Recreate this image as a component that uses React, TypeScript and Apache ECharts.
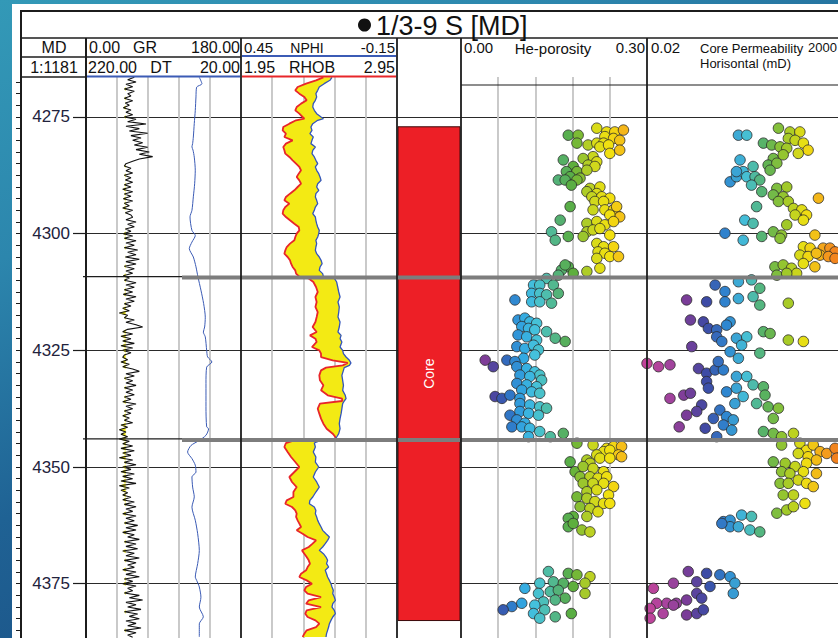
import React, { useEffect, useRef } from 'react';
import * as echarts from 'echarts';

// ---------- data ----------
const DEPTH_MIN = 4266.43;
const DEPTH_MAX = 4386.64;
const DEPTH_LABELS = [4275, 4300, 4325, 4350, 4375];
const ZONE_TOPS = [4309.4, 4344.2];
const CORE_INTERVALS = [[4277.1, 4382.9]];
const CORE_LABEL = 'Core';

const GR_TOP = 4266.5;
const GR_STEP = 0.5;
const GR_CUTOFF = 46;
const GR_VALUES = [
  56.1,48.4,58.1,46.4,54.2,44.5,56.1,48.4,52.2,44.5,54.2,45.7,50.3,43.3,52.2,46.4,54.2,44.5,58.1,48.4,
  69.7,46.4,61.9,50.3,71.6,52.2,63.9,54.2,65.8,56.1,71.6,58.1,73.5,61.9,77.4,61.9,54.2,46.4,44.5,52.2,
  46.4,54.2,44.5,52.2,45.7,54.2,44.5,52.2,42.6,54.2,44.5,52.2,43.3,54.2,44.5,50.3,42.6,54.2,45.7,52.2,
  54.2,46.4,58.1,48.4,56.1,45.7,52.2,43.3,54.2,44.5,58.1,46.4,56.1,44.5,60.0,48.4,58.1,45.7,61.9,46.4,
  58.1,44.5,56.1,46.4,54.2,43.3,50.3,44.5,58.1,46.4,56.1,44.5,54.2,43.3,58.1,46.4,56.1,44.5,52.2,42.6,
  50.3,38.7,48.4,44.5,56.1,46.4,58.1,65.8,48.4,42.6,54.2,40.6,52.2,42.6,56.1,40.6,54.2,42.6,52.2,44.5,
  42.6,48.4,40.6,50.3,42.6,54.2,61.9,46.4,56.1,44.5,54.2,46.4,58.1,44.5,54.2,46.4,56.1,44.5,52.2,42.6,
  58.1,46.4,54.2,44.5,52.2,42.6,50.3,44.5,54.2,40.6,48.4,38.7,46.4,40.6,48.4,38.7,50.3,42.6,54.2,40.6,
  56.1,42.6,52.2,38.7,54.2,44.5,58.1,42.6,52.2,40.6,56.1,42.6,54.2,40.6,58.1,38.7,50.3,40.6,48.4,42.6,
  52.2,42.6,56.1,44.5,58.1,46.4,54.2,42.6,58.1,46.4,56.1,44.5,60.0,46.4,58.1,42.6,56.1,48.4,61.9,44.5,
  58.1,46.4,60.0,42.6,56.1,46.4,61.9,44.5,58.1,48.4,56.1,42.6,58.1,46.4,61.9,44.5,54.2,42.6,58.1,48.4,
  54.2,44.5,61.9,50.3,65.8,46.4,58.1,48.4,63.9,44.5,60.0,50.3,61.9,46.4,58.1,48.4,63.9,44.5,58.1,48.4,
  54.2
];

// [depth, DT]
const DT_LOG = [
  [4266.5,73.8],[4267.9,70.4],[4268.6,77.2],[4270.7,78.1],[4273.6,79.0],[4276.4,80.3],[4279.3,81.5],
  [4280.7,82.4],[4281.4,83.3],[4282.1,81.9],[4283.6,80.3],[4286.4,79.0],[4289.3,79.8],[4292.1,81.5],
  [4295.0,83.3],[4296.4,85.8],[4299.3,83.3],[4300.4,79.0],[4301.8,83.3],[4303.2,86.7],[4305.0,81.5],
  [4307.1,78.1],[4309.3,75.5],[4312.1,71.7],[4315.0,68.2],[4317.9,66.1],[4320.0,66.9],[4321.1,68.6],
  [4322.1,66.1],[4325.0,64.3],[4326.4,63.1],[4327.5,57.5],[4328.6,64.3],[4332.1,65.2],[4337.1,65.2],
  [4341.4,64.3],[4341.8,61.8],[4343.2,65.2],[4344.3,73.8],[4345.4,84.6],[4346.8,88.9],[4348.2,83.3],
  [4349.6,79.0],[4351.1,78.1],[4352.1,83.3],[4354.3,82.4],[4356.4,80.3],[4358.6,83.3],[4361.4,79.0],
  [4364.3,75.9],[4367.9,73.8],[4370.7,75.9],[4373.6,79.0],[4374.3,77.2],[4375.7,73.8],[4377.9,71.7],
  [4380.0,73.8],[4382.1,68.6],[4383.6,73.8],[4386.4,73.8]
];

const NR_DEPTH = [
  4266.5,4267.14,4267.86,4268.57,4269.29,4270.0,4270.71,4271.43,4272.14,4272.86,4273.57,4274.29,4275.0,4275.36,
  4275.71,4276.43,4277.14,4277.86,4278.57,4279.29,4280.0,4280.71,4281.43,4282.14,4282.86,4283.57,4284.29,4285.0,
  4285.71,4286.43,4287.14,4287.86,4288.57,4289.29,4290.0,4290.71,4291.43,4292.14,4292.86,4293.57,4294.29,4295.0,4295.71,
  4296.43,4297.14,4297.86,4298.57,4299.29,4300.0,4300.71,4301.43,4302.14,4302.86,4303.57,4304.29,4305.0,4305.71,
  4306.43,4307.14,4307.86,4308.57,4309.2,4309.6,4310.36,4311.43,4312.5,4313.57,4314.64,4315.71,4316.79,4317.86,
  4318.93,4320.0,4321.07,4321.79,4322.5,4323.21,4324.29,4325.0,4325.71,
  4326.43,4327.14,4327.71,4328.21,4328.71,4329.29,4330.36,4331.43,4332.5,4333.57,4334.64,4335.36,4335.86,4336.43,
  4337.5,4338.57,4339.64,4340.71,4341.79,4342.86,4343.57,4344.0,4344.4,4344.86,4345.71,4346.79,4347.86,4348.93,
  4350.0,4351.07,4352.14,4353.21,4354.29,4355.36,
  4356.43,4357.14,4357.86,4358.57,4359.29,4360.0,4360.71,4361.43,4362.14,4362.86,4363.57,4364.29,4365.0,4365.71,
  4366.43,4367.14,4367.86,4368.57,4369.29,4370.0,4370.71,4371.43,4372.14,4372.86,4373.57,4374.29,4375.0,4375.71,
  4376.43,4377.14,4377.86,4378.57,4379.29,4380.0,4380.71,4381.43,4382.14,4382.86,4383.57,4384.29,4385.0,4385.71,4386.43
];
const NPHI_VALUES = [
  0.100,0.108,0.130,0.149,0.155,0.162,0.159,0.164,0.172,0.174,0.168,0.159,0.142,0.133,0.155,0.174,0.181,0.177,0.185,
  0.172,0.177,0.181,0.164,0.174,0.177,0.168,0.162,0.155,0.164,0.159,0.151,0.146,0.142,0.155,0.159,0.151,0.162,0.164,
  0.159,0.155,0.164,0.168,0.174,
  0.164,0.162,0.159,0.155,0.149,0.151,0.155,0.162,0.159,0.162,0.164,0.159,0.149,0.142,0.138,0.146,0.149,0.136,0.133,
  0.091,0.082,0.078,0.074,0.069,0.077,0.072,0.074,0.077,0.069,0.072,0.077,0.065,0.069,0.062,0.069,0.059,0.056,
  0.046,0.033,0.027,0.033,0.053,0.056,0.062,0.059,0.056,0.059,0.049,0.046,0.053,0.059,0.062,0.065,0.069,0.072,0.069,
  0.074,0.082,0.087,0.149,0.168,0.164,0.172,0.162,0.164,0.151,0.164,0.172,0.159,0.149,0.162,
  0.174,0.185,0.187,0.168,0.162,0.164,0.159,0.155,0.149,0.142,0.136,0.123,0.110,0.117,0.126,0.136,0.149,0.133,0.123,
  0.117,0.121,0.113,0.126,0.121,0.117,0.110,0.104,0.100,0.095,0.097,0.091,0.087,0.097,0.100,0.091,0.087,0.097,0.104,
  0.110,0.113,0.117,0.121,0.123
];
const RHOB_VALUES = [
  2.478,2.431,2.367,2.313,2.298,2.324,2.356,2.371,2.335,2.307,2.298,2.324,2.345,2.356,2.303,2.260,2.221,2.217,2.238,
  2.228,2.281,2.238,2.221,2.228,2.234,2.260,2.281,2.303,2.324,2.335,2.320,2.307,2.324,2.335,2.313,2.292,2.264,2.238,
  2.228,2.260,2.234,2.221,2.217,
  2.238,2.264,2.292,2.320,2.324,2.307,2.298,2.292,2.264,2.243,2.234,2.228,2.249,2.264,2.271,2.281,2.298,2.303,2.324,
  2.384,2.414,2.431,2.442,2.427,2.435,2.427,2.442,2.435,2.427,2.409,2.435,2.392,2.427,2.435,2.405,2.452,2.463,
  2.463,2.538,2.634,2.602,2.495,2.463,2.452,2.456,2.478,2.463,2.506,2.598,2.598,2.456,2.442,2.452,2.463,2.478,2.499,
  2.538,2.555,2.555,2.281,2.238,2.228,2.249,2.271,2.298,2.324,2.292,2.260,2.277,2.307,2.286,
  2.286,2.243,2.234,2.277,2.298,2.307,2.303,2.313,2.324,2.335,2.307,2.345,2.377,2.431,2.409,2.384,2.341,2.356,2.371,
  2.384,2.392,2.377,2.367,2.335,2.324,2.371,2.405,2.367,2.356,2.377,2.463,2.384,2.367,2.463,2.371,2.362,2.377,2.427,
  2.452,2.431,2.371,2.356,2.345
];

// [He-porosity (v/v), depth]
const POROSITY_POINTS = [
  [0.219,4277.4],[0.235,4278.2],[0.248,4278.2],[0.262,4277.8],[0.232,4279.2],[0.246,4279.6],[0.256,4280.0],[0.173,4278.9],
  [0.189,4278.9],[0.187,4280.6],[0.205,4281.0],[0.219,4280.6],[0.230,4280.6],[0.224,4281.4],[0.238,4281.0],[0.240,4282.8],
  [0.256,4282.1],[0.213,4283.5],[0.197,4283.9],[0.165,4284.2],[0.219,4284.6],[0.205,4285.3],[0.216,4285.6],[0.181,4285.6],
  [0.170,4286.7],[0.187,4286.7],[0.203,4286.4],[0.176,4287.8],[0.192,4288.1],[0.157,4288.5],[0.168,4288.5],[0.187,4288.5],
  [0.178,4289.6],[0.208,4290.3],[0.224,4290.0],[0.203,4291.0],[0.219,4291.4],[0.211,4292.1],[0.227,4292.1],[0.240,4292.4],
  [0.216,4293.1],[0.230,4293.1],[0.213,4294.9],[0.232,4294.9],[0.246,4294.9],[0.251,4296.0],[0.256,4296.4],[0.240,4296.0],
  [0.251,4294.2],[0.176,4294.2],[0.160,4297.1],[0.203,4297.8],[0.219,4297.4],[0.232,4298.1],[0.246,4297.4],[0.203,4299.6],
  [0.213,4299.2],[0.224,4298.9],[0.240,4300.3],[0.146,4299.6],[0.152,4301.4],[0.173,4300.6],[0.197,4300.6],[0.219,4302.1],
  [0.230,4302.8],[0.246,4302.8],[0.221,4303.9],[0.232,4304.2],[0.219,4305.3],[0.240,4304.9],[0.254,4304.9],[0.224,4307.4],
  [0.173,4307.1],[0.162,4307.8],[0.168,4306.7],[0.181,4308.5],[0.203,4308.1],[0.157,4308.9],
  [0.138,4309.6],[0.117,4311.0],[0.127,4311.0],[0.149,4311.0],[0.157,4312.8],[0.114,4312.8],[0.127,4312.8],[0.138,4313.1],
  [0.114,4314.6],[0.127,4314.6],[0.146,4314.9],[0.087,4314.2],[0.092,4318.5],[0.103,4318.1],[0.111,4318.9],[0.122,4319.2],
  [0.098,4319.9],[0.109,4320.3],[0.119,4320.6],[0.138,4321.0],[0.152,4322.4],[0.168,4323.1],[0.092,4321.7],[0.106,4322.1],
  [0.122,4322.8],[0.090,4324.2],[0.103,4324.6],[0.117,4323.9],[0.125,4324.9],[0.101,4326.7],[0.119,4326.0],[0.039,4327.1],
  [0.052,4328.5],[0.074,4327.1],[0.087,4327.4],[0.090,4328.5],[0.106,4328.9],[0.119,4329.6],[0.127,4330.3],[0.095,4330.3],
  [0.111,4330.6],[0.130,4331.4],[0.090,4332.1],[0.106,4332.4],[0.122,4332.8],[0.098,4333.5],[0.114,4333.9],[0.127,4334.2],
  [0.055,4334.9],[0.066,4335.3],[0.079,4334.6],[0.095,4335.3],[0.095,4336.4],[0.111,4336.7],[0.127,4337.1],[0.138,4337.4],
  [0.079,4338.9],[0.095,4338.1],[0.109,4338.5],[0.125,4338.9],[0.090,4339.9],[0.103,4340.6],[0.082,4341.4],[0.098,4341.4],
  [0.111,4341.7],[0.127,4342.4],[0.144,4343.5],[0.109,4343.5],[0.165,4342.8],
  [0.187,4344.9],[0.213,4345.3],[0.235,4346.0],[0.246,4345.6],[0.259,4345.6],[0.230,4346.7],[0.240,4346.4],[0.254,4347.4],
  [0.259,4347.8],[0.176,4348.9],[0.203,4348.5],[0.219,4347.4],[0.208,4349.2],[0.224,4348.1],[0.240,4348.1],[0.184,4351.0],
  [0.197,4349.9],[0.213,4350.3],[0.230,4351.0],[0.192,4352.1],[0.208,4352.1],[0.221,4352.4],[0.235,4352.1],[0.197,4353.5],
  [0.213,4353.5],[0.230,4353.5],[0.246,4354.2],[0.203,4355.3],[0.219,4354.9],[0.238,4356.0],[0.187,4356.4],[0.203,4356.7],
  [0.216,4357.4],[0.230,4357.8],[0.240,4357.8],[0.192,4358.5],[0.208,4358.9],[0.221,4359.6],[0.203,4360.6],[0.181,4360.6],
  [0.173,4361.0],[0.173,4362.8],[0.181,4362.1],[0.195,4363.5],[0.208,4363.9],
  [0.141,4372.4],[0.173,4372.8],[0.187,4373.1],[0.208,4373.5],[0.127,4374.9],[0.149,4374.6],[0.165,4374.9],[0.181,4375.6],
  [0.200,4374.9],[0.103,4376.0],[0.125,4377.1],[0.144,4376.7],[0.157,4376.4],[0.168,4378.1],[0.152,4378.5],[0.133,4378.9],
  [0.119,4379.6],[0.135,4380.6],[0.098,4379.2],[0.082,4379.9],[0.068,4380.6],[0.117,4381.4],[0.127,4382.4],[0.152,4382.1],
  [0.178,4381.4],[0.200,4377.1]
];

// [horizontal core permeability (mD), depth]
const PERM_POINTS = [
  [4.07,4278.9],[6.61,4278.9],[41.7,4277.4],[81.3,4278.2],[145,4278.2],[74.1,4279.6],[110,4280.0],[178,4280.6],
  [234,4282.1],[132,4282.8],[17.4,4280.6],[28.2,4281.0],[45.7,4281.4],[67.6,4281.7],[4.47,4284.2],[30.9,4283.9],
  [22.9,4285.3],[38.0,4284.9],[25.7,4286.4],[55.0,4283.1],[2.51,4288.9],[3.63,4287.8],[5.37,4286.7],[9.55,4285.6],
  [6.61,4287.8],[10.7,4287.8],[14.1,4288.5],[8.71,4289.6],[15.8,4291.0],[3.63,4286.7],[38.0,4290.3],[67.6,4290.0],
  [30.9,4291.7],[55.0,4292.1],[41.7,4293.1],[74.1,4293.1],[100,4294.6],[162,4294.9],[214,4296.0],[110,4296.0],
  [178,4297.1],[67.6,4298.1],[427,4292.4],[11.7,4294.2],[5.89,4297.1],[9.55,4297.8],[1.86,4299.9],[5.37,4301.4],
  [15.8,4300.6],[30.9,4299.6],[50.1,4300.3],[45.7,4301.0],[347,4300.3],[178,4302.8],[263,4303.1],[145,4304.6],
  [234,4304.9],[347,4307.1],[178,4306.4],[33.9,4307.1],[55.0,4306.7],[89.1,4307.4],[120,4308.5],[38.0,4308.9],
  [67.6,4308.5],[562,4303.1],[832,4303.1],[1120,4303.9],[468,4304.6],[759,4304.9],[1120,4305.3],[380,4304.2],
  [1.05,4311.0],[1.86,4312.4],[4.07,4310.3],[8.71,4309.9],[14.1,4311.7],[9.55,4313.5],[4.07,4313.9],[1.86,4314.6],
  [14.1,4315.3],[0.20,4314.2],[0.64,4314.6],[74.1,4314.9],[0.25,4318.5],[0.53,4318.9],[0.71,4320.3],[1.15,4320.6],
  [2.51,4318.9],[2.04,4319.6],[1.15,4322.1],[1.55,4323.1],[3.63,4322.4],[6.61,4322.1],[4.90,4323.9],[17.4,4321.0],
  [25.7,4321.4],[74.1,4322.8],[178,4323.1],[0.27,4324.2],[0.020,4327.8],[0.039,4328.5],[0.076,4328.1],[0.40,4328.9],
  [0.64,4329.9],[1.05,4329.2],[1.70,4329.2],[1.26,4327.4],[2.51,4325.3],[4.07,4326.7],[14.1,4325.6],[0.64,4331.7],
  [0.71,4333.1],[2.04,4333.9],[3.63,4330.6],[6.61,4330.6],[3.63,4333.1],[9.55,4332.4],[17.4,4332.8],[19.1,4334.6],
  [5.37,4334.9],[11.7,4336.4],[22.9,4337.1],[41.7,4337.4],[3.31,4336.4],[0.076,4335.3],[0.17,4334.6],[0.25,4334.2],
  [0.48,4336.7],[0.36,4338.1],[0.20,4338.9],[0.13,4341.4],[0.59,4341.7],[0.95,4339.6],[1.38,4337.8],[2.04,4339.2],
  [3.02,4339.9],[1.70,4341.0],[1.15,4343.5],[2.75,4342.1],[17.4,4342.4],[30.9,4342.8],[50.1,4343.5],[100,4342.8],
  [30.9,4339.6],
  [50.1,4345.3],[145,4344.9],[214,4346.4],[316,4345.3],[468,4346.7],[132,4347.1],[234,4347.8],[380,4348.5],
  [692,4347.1],[1120,4346.0],[1230,4348.1],[30.9,4348.9],[61.7,4349.2],[110,4349.9],[214,4349.2],[50.1,4351.0],
  [81.3,4351.4],[178,4351.0],[380,4351.4],[45.7,4353.5],[74.1,4353.5],[132,4352.8],[214,4353.5],[316,4354.2],
  [55.0,4356.0],[100,4356.0],[195,4357.8],[38.0,4359.9],[67.6,4359.2],[100,4358.5],[1.70,4361.7],[2.51,4361.4],
  [4.90,4360.3],[8.71,4360.6],[2.51,4362.8],[4.07,4362.8],[7.94,4363.5],[14.1,4363.9],[1.55,4362.1],
  [0.22,4372.4],[0.64,4372.8],[1.38,4373.1],[2.51,4373.5],[3.31,4374.9],[0.36,4374.6],[0.78,4375.6],[0.093,4374.9],
  [0.029,4376.0],[3.02,4377.1],[0.36,4377.1],[0.48,4378.1],[0.20,4378.5],[0.11,4379.2],[0.063,4379.2],[0.035,4379.2],
  [0.024,4380.3],[0.051,4381.4],[0.093,4379.6],[0.20,4381.7],[0.36,4381.4],[0.53,4380.6],[0.024,4382.4]
];

// ---------- styling / layout ----------
const FONT = '"Liberation Sans", Arial, Helvetica, sans-serif';
const YELLOW = '#f3ea14';
const GRID_GRAY = '#c4c4c4';
const FRAME = '#1c1c1c';
const DATA_TOP = 77;
const DATA_H = 561;
const TRACK = {
  md: [21, 86], gr: [86, 241], nphi: [241, 397], core: [397, 461], por: [461, 647], perm: [647, 845]
};
const ZONE_SPLIT_X = 182;
const POR_COLORS = ['#c0449a', '#7a3d98', '#3d4aa4', '#2f78c8', '#32a8e2', '#45c2dc', '#4fbea8', '#55b070',
  '#5aae3e', '#a6ca2a', '#dcdc18', '#f2e010', '#f5bc18', '#f08020'];
const PERM_COLORS = ['#c2449a', '#a8449e', '#7a3d98', '#3d4aa4', '#2f86d0', '#45c0d8', '#5ab15a', '#9cc82a',
  '#efe012', '#f5a01c', '#ee6a20'];

const MINOR_TICKS: number[] = [];
for (let d = 4267.5; d < DEPTH_MAX; d += 2.5) MINOR_TICKS.push(d);

const nphiToRhobAxis = (n: number) => 1.95 + (0.45 - n) / 0.6;

function buildOption() {
  const grData = GR_VALUES.map((v, i) => [v, GR_TOP + i * GR_STEP]);
  const mkGrid = ([l, r]: number[]) => ({ left: l, top: DATA_TOP, width: r - l, height: DATA_H, containLabel: false, outerBoundsMode: 'none' });
  const hiddenX = (gridIndex: number, extra: any = {}) => ({ gridIndex, type: 'value', show: false, ...extra });
  const gridX = (gridIndex: number, min: number, max: number, interval: number) => ({
    gridIndex, type: 'value', min, max, interval, position: 'top',
    axisLine: { show: false }, axisTick: { show: false }, axisLabel: { show: false },
    splitLine: { show: true, showMinLine: false, showMaxLine: false, lineStyle: { color: GRID_GRAY, width: 1.8 } }
  });
  const depthY = (gridIndex: number) => ({
    gridIndex, type: 'value', min: DEPTH_MIN, max: DEPTH_MAX, inverse: true,
    axisLine: { show: false }, axisTick: { show: false, customValues: DEPTH_LABELS },
    axisLabel: { show: false, customValues: DEPTH_LABELS },
    splitLine: { show: true, lineStyle: { color: '#2a2a2a', width: 1 } }
  });

  const line = (x1: number, y1: number, x2: number, y2: number, stroke = FRAME, lineWidth = 1.5) =>
    ({ type: 'line', z: 100, silent: true, shape: { x1, y1, x2, y2 }, style: { stroke, lineWidth } });
  const txt = (text: string, x: number, y: number, align = 'left', fontSize = 16, fill = '#111') =>
    ({ type: 'text', z: 100, silent: true, x, y, style: { text, fill, fontSize, fontFamily: FONT, align, verticalAlign: 'middle' } });

  const graphics: any[] = [
    { type: 'rect', z: -100, silent: true, shape: { x: 12, y: 4, width: 830, height: 640 }, style: { fill: '#ffffff' } },
    line(21, 11, 838, 11, FRAME, 2),
    line(21, 10, 21, 638, FRAME, 2),
    line(21, 38, 838, 38, FRAME, 1.5),
    line(21, 57, 241, 57, FRAME, 1.5),
    line(21, 77, 86, 77, FRAME, 1.5),
    line(87, 76.5, 240, 76.5, '#3b5bb5', 2),
    line(242, 56, 396, 56, '#3b5bb5', 2),
    line(242, 76.5, 396, 76.5, '#e8262a', 2),
    line(461, 85, 838, 85, FRAME, 1.2),
    line(86, 38, 86, 638, FRAME, 2),
    line(241, 38, 241, 638, FRAME, 1.8),
    line(397, 38, 397, 638, FRAME, 1.8),
    line(461, 38, 461, 638, FRAME, 1.8),
    line(647, 38, 647, 638, FRAME, 1.8),
    { type: 'circle', z: 100, silent: true, shape: { cx: 364.5, cy: 25, r: 6.5 }, style: { fill: '#111' } },
    txt('1/3-9 S [MD]', 376, 25.5, 'left', 27),
    txt('MD', 54, 47.5, 'center'),
    txt('1:1181', 54, 67, 'center'),
    txt('0.00', 89, 47.5), txt('GR', 145, 47.5, 'center'), txt('180.00', 240, 47.5, 'right'),
    txt('220.00', 88, 67), txt('DT', 161, 67, 'center'), txt('20.00', 240, 67, 'right'),
    txt('0.45', 244, 47.5, 'left', 15), txt('NPHI', 307, 47.5, 'center', 14), txt('-0.15', 395, 47.5, 'right', 15),
    txt('1.95', 244, 67), txt('RHOB', 312, 67, 'center'), txt('2.95', 395, 67, 'right'),
    txt('0.00', 464, 47.5, 'left', 15), txt('He-porosity', 553, 48.5, 'center', 15), txt('0.30', 645, 47.5, 'right', 15),
    txt('0.02', 651, 47.5, 'left', 15), txt('Core Permeability', 700, 48, 'left', 13), txt('2000', 837, 47.5, 'right', 13),
    txt('Horisontal (mD)', 700, 63, 'left', 13)
  ];

  return {
    animation: false,
    backgroundColor: {
      type: 'linear', x: 0, y: 0, x2: 0.6, y2: 1,
      colorStops: [
        { offset: 0, color: '#3399b7' }, { offset: 0.3, color: '#2c86ad' },
        { offset: 0.6, color: '#1f6294' }, { offset: 1, color: '#1a4a80' }
      ]
    },
    grid: [mkGrid(TRACK.md), mkGrid(TRACK.gr), mkGrid(TRACK.nphi), mkGrid(TRACK.core), mkGrid(TRACK.por), mkGrid(TRACK.perm)],
    xAxis: [
      hiddenX(0, { min: 0, max: 1 }),
      gridX(1, 0, 180, 36),
      hiddenX(1, { min: 20, max: 220, inverse: true }),
      hiddenX(2, { min: -0.15, max: 0.45, inverse: true }),
      hiddenX(2, { min: 1.95, max: 2.95 }),
      gridX(2, 0, 5, 1),
      hiddenX(3, { min: 0, max: 1 }),
      gridX(4, 0, 0.3, 0.06),
      { gridIndex: 5, type: 'log', logBase: 10, min: 0.02, max: 2000, show: false }
    ],
    yAxis: [
      {
        gridIndex: 0, type: 'value', min: DEPTH_MIN, max: DEPTH_MAX, inverse: true, position: 'right',
        axisLine: { show: false },
        axisTick: { show: true, inside: true, length: 5, customValues: MINOR_TICKS, lineStyle: { color: FRAME, width: 1 } },
        axisLabel: { show: false, customValues: MINOR_TICKS }, splitLine: { show: false }
      },
      {
        gridIndex: 0, type: 'value', min: DEPTH_MIN, max: DEPTH_MAX, inverse: true, position: 'right',
        axisLine: { show: false },
        axisTick: { show: true, inside: true, length: 13, customValues: DEPTH_LABELS, lineStyle: { color: FRAME, width: 1.2 } },
        axisLabel: {
          show: true, inside: true, margin: 16, customValues: DEPTH_LABELS, fontSize: 17, fontFamily: FONT, color: '#22223c',
          formatter: (v: number) => String(Math.round(v))
        },
        splitLine: { show: false }
      },
      depthY(1), depthY(2), depthY(3), depthY(4), depthY(5)
    ],
    visualMap: [
      { type: 'continuous', show: false, seriesIndex: 7, dimension: 0, min: 0.02, max: 0.28, inRange: { color: POR_COLORS } },
      { type: 'continuous', show: false, seriesIndex: 8, dimension: 2, min: -1.7, max: 3.3, inRange: { color: PERM_COLORS } }
    ],
    series: [
      {
        type: 'custom', xAxisIndex: 1, yAxisIndex: 2, clip: true, silent: true, z: 2,
        data: [[GR_CUTOFF, GR_TOP]],
        renderItem: (params: any, api: any) => {
          const pts: number[][] = [api.coord([GR_CUTOFF, grData[0][1]])];
          grData.forEach(([v, d]) => pts.push(api.coord([Math.min(v, GR_CUTOFF), d])));
          pts.push(api.coord([GR_CUTOFF, grData[grData.length - 1][1]]));
          return { type: 'polygon', shape: { points: pts }, style: { fill: YELLOW } };
        }
      },
      {
        type: 'line', xAxisIndex: 1, yAxisIndex: 2, data: grData, symbol: 'none', z: 3,
        lineStyle: { color: '#111', width: 1.1 }
      },
      {
        type: 'line', xAxisIndex: 2, yAxisIndex: 2, data: DT_LOG.map(([d, v]) => [v, d]), symbol: 'none', smooth: 0.25, z: 3,
        lineStyle: { color: '#3b5bb5', width: 1 }
      },
      {
        type: 'custom', xAxisIndex: 4, yAxisIndex: 3, clip: true, silent: true, z: 2,
        data: [[RHOB_VALUES[0], NR_DEPTH[0]]],
        renderItem: (params: any, api: any) => {
          const left = NR_DEPTH.map((d, i) => api.coord([RHOB_VALUES[i], d]));
          const right = NR_DEPTH.map((d, i) => api.coord([nphiToRhobAxis(NPHI_VALUES[i]), d])).reverse();
          return { type: 'polygon', shape: { points: left.concat(right) }, style: { fill: YELLOW } };
        }
      },
      {
        type: 'line', xAxisIndex: 4, yAxisIndex: 3, data: NR_DEPTH.map((d, i) => [RHOB_VALUES[i], d]), symbol: 'none', z: 3,
        lineStyle: { color: '#e8262a', width: 1.8 }
      },
      {
        type: 'line', xAxisIndex: 3, yAxisIndex: 3, data: NR_DEPTH.map((d, i) => [NPHI_VALUES[i], d]), symbol: 'none', z: 3,
        lineStyle: { color: '#3355bb', width: 1.3 }
      },
      {
        type: 'custom', xAxisIndex: 6, yAxisIndex: 4, clip: true, silent: true, z: 3,
        dimensions: ['top', 'bottom'], encode: { y: [0, 1] },
        data: CORE_INTERVALS,
        renderItem: (params: any, api: any) => {
          const p1 = api.coord([0, api.value(0)]);
          const p2 = api.coord([1, api.value(1)]);
          return {
            type: 'group', children: [
              { type: 'rect', shape: { x: p1[0] + 1, y: p1[1], width: p2[0] - p1[0] - 2, height: p2[1] - p1[1] },
                style: { fill: '#ed1f26', stroke: '#3a0a0a', lineWidth: 1 } },
              { type: 'text', x: (p1[0] + p2[0]) / 2, y: (p1[1] + p2[1]) / 2, rotation: Math.PI / 2,
                style: { text: CORE_LABEL, fill: '#ffffff', fontSize: 14, fontFamily: FONT, align: 'center', verticalAlign: 'middle' } }
            ]
          };
        }
      },
      {
        type: 'scatter', xAxisIndex: 7, yAxisIndex: 5, data: POROSITY_POINTS, symbolSize: 10.5, z: 4,
        itemStyle: { borderColor: '#2b2b2b', borderWidth: 0.8, opacity: 1 }
      },
      {
        type: 'scatter', xAxisIndex: 8, yAxisIndex: 6, data: PERM_POINTS.map(([k, d]) => [k, d, Math.log10(k)]), symbolSize: 10.5, z: 4,
        itemStyle: { borderColor: '#2b2b2b', borderWidth: 0.8, opacity: 1 }
      },
      {
        type: 'custom', xAxisIndex: 1, yAxisIndex: 2, clip: false, silent: true, z: 10,
        data: ZONE_TOPS.map(d => [0, d]),
        renderItem: (params: any, api: any) => {
          const y = api.coord([0, api.value(1)])[1];
          return {
            type: 'group', children: [
              { type: 'line', shape: { x1: 83, y1: y - 1, x2: ZONE_SPLIT_X, y2: y - 1 }, style: { stroke: FRAME, lineWidth: 1.2 } },
              { type: 'line', shape: { x1: ZONE_SPLIT_X, y1: y, x2: 845, y2: y }, style: { stroke: '#7d7d7d', lineWidth: 4 } }
            ]
          };
        }
      }
    ],
    graphic: { elements: graphics }
  };
}

export default function App() {
  const ref = useRef<HTMLDivElement>(null);
  useEffect(() => {
    if (!ref.current) return;
    const chart = echarts.init(ref.current, undefined, { renderer: 'svg' });
    chart.setOption(buildOption() as any);
    return () => chart.dispose();
  }, []);
  return <div ref={ref} style={{ position: 'fixed', left: 0, top: 0, width: 838, height: 638 }} />;
}
